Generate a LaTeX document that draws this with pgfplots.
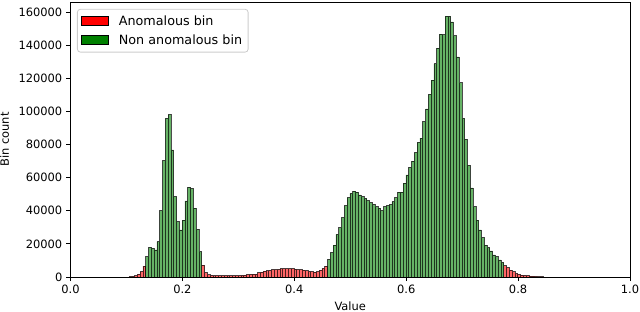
\documentclass[border=0pt]{standalone}
\usepackage{fontspec}
\setmainfont{DejaVu Sans}
\usepackage{pgfplots}
\usepackage{pgfplotstable}
\pgfplotsset{compat=1.18}

\definecolor{redbar}{RGB}{255,102,102}
\definecolor{greenbar}{RGB}{102,179,102}
\definecolor{legframe}{RGB}{204,204,204}
\definecolor{mplgreen}{RGB}{0,128,0}

% anomalous bins (bin centres, counts)
\pgfplotstableread{
x y
0.107 200
0.112 400
0.117 800
0.122 1700
0.127 3300
0.132 6500
0.237 7200
0.242 2600
0.247 1300
0.252 1000
0.257 900
0.262 800
0.267 800
0.272 800
0.277 800
0.282 800
0.287 800
0.292 800
0.297 900
0.302 900
0.307 1000
0.312 1100
0.317 1500
0.322 1600
0.327 1700
0.332 1800
0.337 2600
0.342 3000
0.347 3600
0.352 3800
0.357 4000
0.362 4400
0.367 4500
0.372 4600
0.377 5000
0.382 5000
0.387 5100
0.392 5000
0.397 5000
0.402 4800
0.407 4500
0.412 4400
0.417 4200
0.422 3800
0.427 3400
0.432 3200
0.437 3000
0.442 3200
0.447 4200
0.452 5200
0.457 6600
0.777 6800
0.782 5600
0.787 4200
0.792 3200
0.797 2200
0.802 1600
0.807 1200
0.812 1000
0.817 800
0.822 600
0.827 500
0.832 400
0.837 300
0.842 300
}\anomtable

% non anomalous bins
\pgfplotstableread{
x y
0.137 12300
0.142 17900
0.147 17300
0.152 16300
0.157 21300
0.162 40000
0.167 70200
0.172 95800
0.177 98000
0.182 76700
0.187 48500
0.192 33400
0.197 28400
0.202 34400
0.207 45900
0.212 54200
0.217 53300
0.222 41500
0.227 28800
0.232 15300
0.462 10700
0.467 14700
0.472 19300
0.477 25800
0.482 29800
0.487 35800
0.492 43100
0.497 47900
0.502 50500
0.507 51900
0.512 51300
0.517 49500
0.522 48500
0.527 47500
0.532 46100
0.537 44900
0.542 43900
0.547 42500
0.552 41500
0.557 40000
0.562 42500
0.567 43100
0.572 43700
0.577 45500
0.582 47900
0.587 51300
0.592 51300
0.597 56600
0.602 61600
0.607 66200
0.612 70000
0.617 75100
0.622 81300
0.627 83800
0.632 93800
0.637 101500
0.642 110300
0.647 118800
0.652 128700
0.657 138100
0.662 146600
0.667 146200
0.672 157500
0.677 157500
0.682 154000
0.687 145600
0.692 132800
0.697 117200
0.702 95800
0.707 83000
0.712 67400
0.717 53800
0.722 42500
0.727 34400
0.732 28400
0.737 23700
0.742 19300
0.747 17800
0.752 15700
0.757 13300
0.762 12300
0.767 10300
0.772 8900
}\normtable

\begin{document}
\begin{tikzpicture}
\begin{axis}[
  scale only axis,
  width=559.5bp, height=275bp,
  xmin=0, xmax=1, ymin=0, ymax=166000,
  axis line style={line width=0.8bp},
  xtick={0,0.2,0.4,0.6,0.8,1.0},
  xticklabels={0.0,0.2,0.4,0.6,0.8,1.0},
  ytick={0,20000,40000,60000,80000,100000,120000,140000,160000},
  yticklabels={0,20000,40000,60000,80000,100000,120000,140000,160000},
  tick pos=left,
  tick align=outside,
  major tick length=4bp,
  every tick/.style={black, line width=0.8bp},
  tick label style={font=\fontsize{11.5}{13}\selectfont},
  xticklabel style={inner sep=0pt, yshift=-4bp, anchor=north},
  yticklabel style={inner sep=0pt, xshift=-4bp, anchor=east},
  xlabel={Value},
  ylabel={Bin count},
  label style={font=\fontsize{11.5}{13}\selectfont},
  xlabel style={at={(axis description cs:0.5,-0.105)}, anchor=center},
  ylabel style={at={(axis description cs:-0.118,0.5)}, anchor=center},
  legend cell align=left,
  legend style={
    at={(axis description cs:0.0116,0.975)}, anchor=north west,
    draw=legframe, line width=0.8bp, rounded corners=3bp, fill=white,
    font=\fontsize{12.8}{15}\selectfont,
    inner xsep=4bp, inner ysep=4.5bp,
    row sep=3.5bp, column sep=8bp,
  },
]
\addplot[ybar, bar width=0.005, bar shift=0pt, fill=redbar, draw=black, draw opacity=0.7, line width=0.7bp, forget plot] table[x=x, y=y] {\anomtable};
\addplot[ybar, bar width=0.005, bar shift=0pt, fill=greenbar, draw=black, draw opacity=0.7, line width=0.7bp, forget plot] table[x=x, y=y] {\normtable};
\addlegendimage{legend image code/.code={\draw[sharp corners, fill=red, draw=black, line width=0.8bp] (0bp,-4.5bp) rectangle (26.7bp,4.5bp);}}
\addlegendentry{Anomalous bin}
\addlegendimage{legend image code/.code={\draw[sharp corners, fill=mplgreen, draw=black, line width=0.8bp] (0bp,-4.5bp) rectangle (26.7bp,4.5bp);}}
\addlegendentry{Non anomalous bin}
\coordinate (bl) at (rel axis cs:0,0);
\coordinate (tr) at (rel axis cs:1,1);
\end{axis}
\pgfresetboundingbox
\path[use as bounding box] ([xshift=-70.5bp,yshift=-35bp]bl) rectangle ([xshift=10bp,yshift=2bp]tr);
\end{tikzpicture}
\end{document}
